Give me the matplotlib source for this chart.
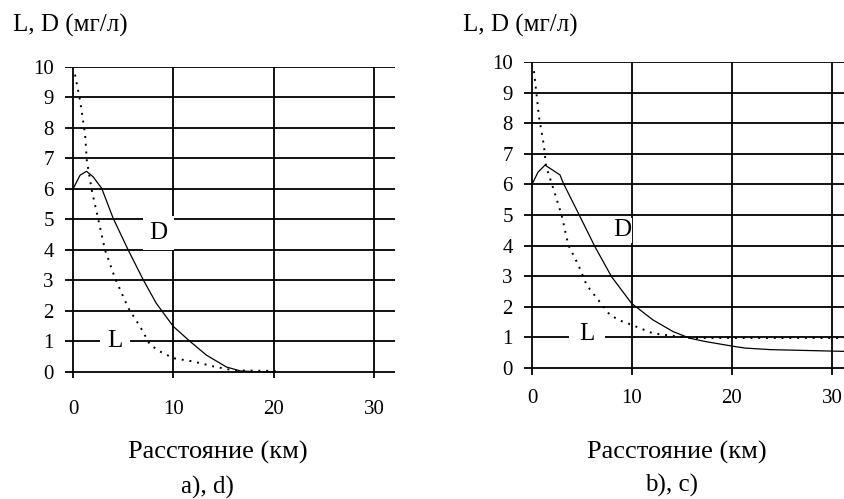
import matplotlib
matplotlib.use("Agg")
import matplotlib.pyplot as plt

plt.rcParams['font.family'] = ['Liberation Serif', 'DejaVu Serif']

# Panel a), d)
distA_D = [0, 0.7, 1.35, 2.0, 2.86, 4.0, 5.5, 7.0, 8.3, 10, 11.7, 13.3, 15.3, 16.7, 18, 20]
concA_D = [6.0, 6.45, 6.58, 6.4, 6.02, 5.04, 4.0, 3.02, 2.25, 1.49, 0.99, 0.55, 0.16, 0.03, 0.01, 0.0]
distA_L = [0.2, 0.7, 1.2, 1.37, 1.86, 2.53, 3.19, 4.19, 5.52, 6.68, 7.68, 8.67, 10, 12, 14, 16, 20.2]
concA_L = [9.75, 8.9, 7.8, 6.95, 5.97, 4.98, 4.0, 3.07, 2.09, 1.49, 0.89, 0.67, 0.45, 0.34, 0.18, 0.05, 0.03]

# Panel b), c)
distB_D = [0, 0.6, 1.3, 2.8, 3.13, 4.63, 6.3, 7.96, 9.96, 12.1, 14.1, 15.8, 17.4, 20.1, 21.3, 23.8, 31.5]
concB_D = [6.0, 6.4, 6.63, 6.31, 6.04, 5.06, 3.96, 2.98, 2.11, 1.57, 1.19, 0.97, 0.86, 0.71, 0.65, 0.6, 0.54]
distB_L = [0.2, 0.7, 1.2, 1.4, 1.96, 2.96, 3.63, 4.63, 5.46, 6.63, 7.8, 8.8, 9.96, 12.1, 14.8, 16, 20, 25, 31.5]
concB_L = [9.7, 8.2, 7.25, 6.6, 6.04, 5.0, 4.02, 3.37, 2.71, 2.22, 1.73, 1.55, 1.41, 1.13, 1.02, 0.98, 0.98, 0.98, 0.98]

xTicks = [0, 10, 20, 30]
yTicks = list(range(0, 11))

yLabel = "L, D (мг/л)"
xLabel = "Расстояние (км)"
captions = ["a), d)", "b), c)"]


def dibujarPanel(ax, distD, concD, distL, concL, xmax, ymin, xpad, dPos, dPad, lPos, lPad):
    ax.set_xlim(-0.8, xmax)
    ax.set_ylim(ymin, 10)
    ax.set_xticks(xTicks)
    ax.set_yticks(yTicks)
    ax.grid(True, color='black', lw=1.3)
    ax.set_axisbelow(True)
    for s in ax.spines.values():
        s.set_visible(False)
    ax.tick_params(length=0, labelsize=15)
    ax.tick_params(axis='y', pad=8)
    ax.tick_params(axis='x', pad=xpad)

    ax.plot(distD, concD, color='black', lw=0.9, zorder=4, clip_on=False)
    ax.plot(distL, concL, color='black', lw=1.4, ls=(0, (1, 3)), zorder=4, clip_on=False)

    # etiquetas con fondo blanco que tapan la cuadricula
    ax.text(dPos[0], dPos[1], 'D', fontsize=18, ha='center', va='center', zorder=3,
            bbox=dict(boxstyle='square,pad=%s' % dPad, fc='white', ec='none'))
    ax.text(lPos[0], lPos[1], 'L', fontsize=18, ha='center', va='center', zorder=3,
            bbox=dict(boxstyle='square,pad=%s' % lPad, fc='white', ec='none'))


W, H = 845, 499
fig = plt.figure(figsize=(W / 100, H / 100), dpi=100)
fig.patch.set_facecolor('white')

axA = fig.add_axes([65 / W, 1 - 378 / H, 330 / W, 311 / H])
dibujarPanel(axA, distA_D, concA_D, distA_L, concA_L, 32.1, -0.2, 16,
             (8.5, 4.55), 0.25, (4.2, 1.0), 0.3)

axB = fig.add_axes([524 / W, 1 - 375 / H, 338 / W, 313 / H])
dibujarPanel(axB, distB_D, concB_D, distB_L, concB_L, 33.0, -0.23, 10,
             (9.0, 4.5), 0.05, (5.5, 1.1), 0.4)

fig.text(13 / W, 1 - 25 / H, yLabel, fontsize=18, ha='left', va='center')
fig.text(463 / W, 1 - 25 / H, yLabel, fontsize=18, ha='left', va='center')
fig.text(218 / W, 1 - 452 / H, xLabel, fontsize=19, ha='center', va='center')
fig.text(677 / W, 1 - 452 / H, xLabel, fontsize=19, ha='center', va='center')
fig.text(207 / W, 1 - 487 / H, captions[0], fontsize=18, ha='center', va='center')
fig.text(672 / W, 1 - 485 / H, captions[1], fontsize=18, ha='center', va='center')

fig.savefig("out.png", dpi=100)
